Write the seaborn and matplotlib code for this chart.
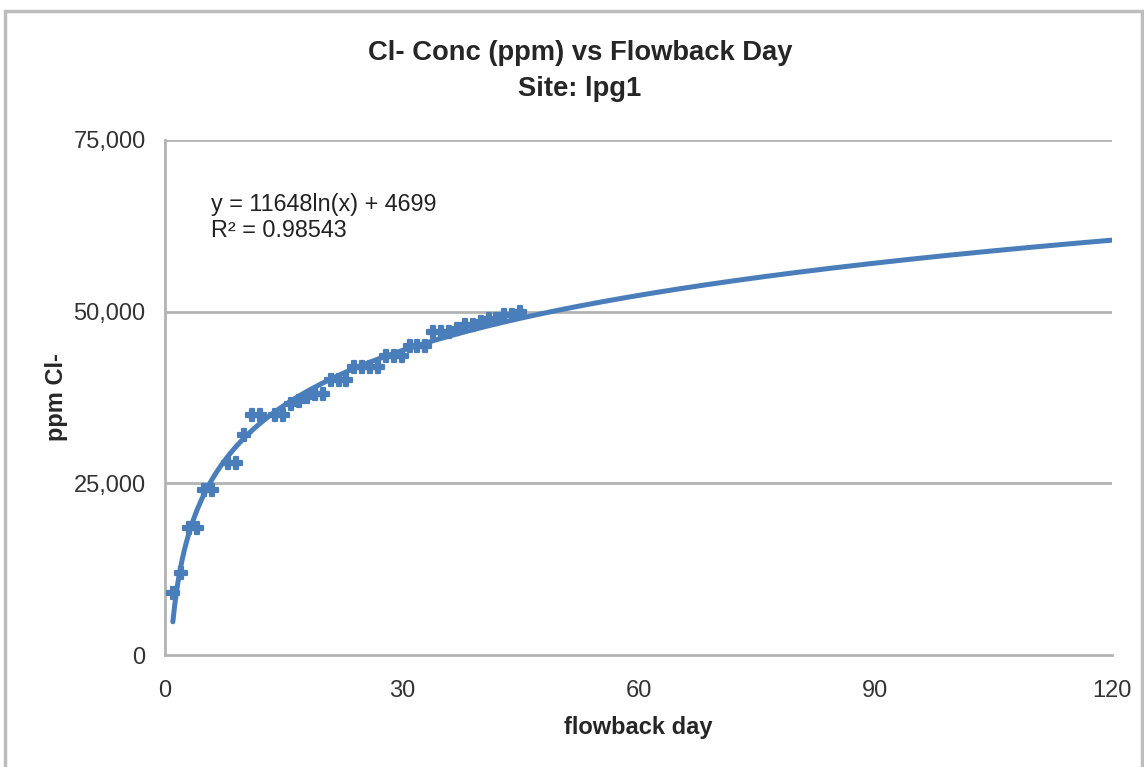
import numpy as np
import seaborn as sns
import matplotlib.pyplot as plt
from matplotlib.patches import Rectangle

# flowback day / chloride readings
days = [1, 2, 3, 4, 5, 6, 8, 9, 10, 11, 12, 14, 15, 16, 17, 18, 19, 20,
        21, 22, 23, 24, 25, 26, 27, 28, 29, 30, 31, 32, 33, 34, 35, 36,
        37, 38, 39, 40, 41, 42, 43, 44, 45]
ppm = [9000, 12000, 18500, 18500, 24000, 24000, 28000, 28000, 32000,
       35000, 35000, 35000, 35000, 36500, 37000, 37500, 38000, 38000,
       40000, 40000, 40000, 42000, 42000, 42000, 42000, 43500, 43500,
       43500, 45000, 45000, 45000, 47000, 47000, 47000, 47500, 48000,
       48000, 48500, 49000, 49000, 49500, 49500, 50000]

x_ticks = [0, 30, 60, 90, 120]
y_ticks = [0, 25000, 50000, 75000]
y_ticklabels = ["0", "25,000", "50,000", "75,000"]

equation = "y = 11648ln(x) + 4699"
r_squared = "R\u00b2 = 0.98543"

blue = "#4a7ebb"
grey = "#b3b3b3"

sns.set_style("white")
plt.rcParams["font.family"] = ["Liberation Sans", "DejaVu Sans"]

fig = plt.figure(figsize=(11.44, 7.67), dpi=100)
ax = fig.add_axes([0.1442, 0.146, 0.8278, 0.6715])

# chart border like the spreadsheet frame
fig.patches.append(Rectangle((0.004, -0.01), 0.994, 0.996, transform=fig.transFigure,
                             fill=False, edgecolor="#bdbdbd", linewidth=2.5))

# log trendline fitted from the readings
coef = np.polyfit(np.log(days), ppm, 1)
xs = np.linspace(1, 120, 500)
sns.lineplot(x=xs, y=coef[0] * np.log(xs) + coef[1], ax=ax, color=blue,
             linewidth=3.6, zorder=4)

sns.scatterplot(x=days, y=ppm, ax=ax, marker="P", s=75, color=blue,
                edgecolor=blue, linewidth=1.6, zorder=3)

ax.set_xlim(0, 120)
ax.set_ylim(0, 75000)
ax.set_xticks(x_ticks)
ax.set_yticks(y_ticks)
ax.set_yticklabels(y_ticklabels)
ax.tick_params(axis="both", labelsize=17, colors="#333333", length=6,
               width=1.5, direction="out")
ax.tick_params(axis="x", pad=12)
ax.tick_params(axis="y", pad=8)
ax.tick_params(axis="both", color=grey)

for y in y_ticks[1:]:
    ax.axhline(y, color=grey, linewidth=2, zorder=1)

for side in ["top", "right"]:
    ax.spines[side].set_visible(False)
for side in ["left", "bottom"]:
    ax.spines[side].set_color(grey)
    ax.spines[side].set_linewidth(2)

ax.set_xlabel("flowback day", fontsize=17, fontweight="bold", labelpad=10)
ax.set_ylabel("ppm Cl-", fontsize=17, fontweight="bold", labelpad=4)

fig.text(0.507, 1 - 53 / 767, "Cl- Conc (ppm) vs Flowback Day", ha="center",
         va="center", fontsize=19.7, fontweight="bold")
fig.text(0.507, 1 - 89 / 767, "Site: lpg1", ha="center",
         va="center", fontsize=19.7, fontweight="bold")

ax.text(5.8, 65600, equation, fontsize=16.8, va="center", color="#222222")
ax.text(5.8, 61800, r_squared, fontsize=16.8, va="center", color="#222222")

fig.savefig("out.png", dpi=100)
